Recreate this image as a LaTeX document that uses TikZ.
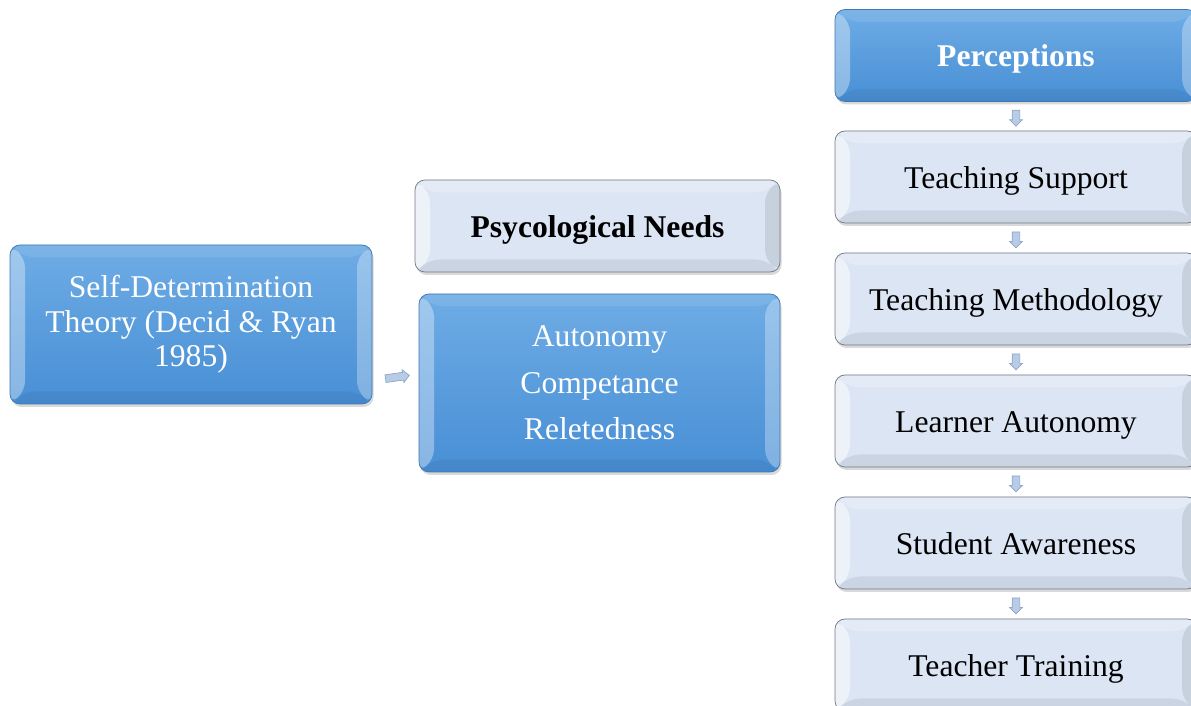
\documentclass[tikz,border=0pt]{standalone}
\usepackage{fontspec}
\setmainfont{Liberation Serif}
\usetikzlibrary{shapes.arrows,shadows,calc}

\definecolor{boxbluetop}{RGB}{110,172,229}
\definecolor{boxbluebot}{RGB}{72,143,213}
\definecolor{boxblueedge}{RGB}{62,118,178}
\definecolor{boxpale}{RGB}{219,229,243}
\definecolor{boxpaleedge}{RGB}{112,120,132}
\definecolor{arrowfill}{RGB}{184,204,232}
\definecolor{arrowedge}{RGB}{140,165,200}

\tikzset{
  bevel/.style n args={4}{path picture={
      \coordinate (o1) at (path picture bounding box.south west);
      \coordinate (o3) at (path picture bounding box.north east);
      \coordinate (i1) at ([shift={(0.3,0.25)}]o1);
      \coordinate (i3) at ([shift={(-0.3,-0.25)}]o3);
      \fill[#1] (o1) -- (o1|-o3) -- (i1|-i3) -- (i1) -- cycle;
      \fill[#2] (o1|-o3) -- (o3) -- (i3) -- (i1|-i3) -- cycle;
      \fill[#3] (o3) -- (o3|-o1) -- (i3|-i1) -- (i3) -- cycle;
      \fill[#4] (o3|-o1) -- (o1) -- (i1) -- (i3|-i1) -- cycle;
  }},
  card/.style={rectangle,rounded corners=0.2cm,align=center,inner sep=0pt,
    font=\fontsize{18}{19}\selectfont,
    drop shadow={opacity=0.3,shadow xshift=0.03cm,shadow yshift=-0.06cm}},
  oneline/.style={text height=0.6cm,text depth=0.15cm},
  bluebox/.style={card,draw=boxblueedge,top color=boxbluetop,bottom color=boxbluebot,text=white,
    bevel={white,opacity=0.35}{white,opacity=0.1}{white,opacity=0.3}{black,opacity=0.05}},
  palebox/.style={card,draw=boxpaleedge,fill=boxpale,text=black,
    bevel={white,opacity=0.5}{white,opacity=0.25}{boxpaleedge,opacity=0.18}{boxpaleedge,opacity=0.15}},
  blockarrow/.style={single arrow,fill=arrowfill,draw=arrowedge,inner sep=0.07cm,
    single arrow head extend=0.05cm,single arrow head indent=0pt}
}

\begin{document}
\begin{tikzpicture}
    \useasboundingbox (0,0) rectangle (23.82,14.12);

    % theory
    \node[bluebox,minimum width=7.24cm,minimum height=3.18cm,
          font=\fontsize{18}{19.5}\selectfont] (sdt) at (3.82,7.63)
        {Self-Determination\\Theory (Decid \& Ryan\\1985)};

    % psychological needs
    \begin{scope}
        \node[palebox,oneline,minimum width=7.3cm,minimum height=1.84cm] (needs) at (11.95,9.6)
            {\bfseries Psycological Needs};
        \node[bluebox,minimum width=7.22cm,minimum height=3.56cm,
              font=\fontsize{18}{26.5}\selectfont] (auto) at (11.99,6.46)
            {Autonomy\\Competance\\Reletedness};
        \node[blockarrow,minimum height=0.48cm,rotate=8] (arr0)
            at ($(sdt.east)!0.5!(auto.west)+(0,-0.47)$) {};
    \end{scope}

    % perceptions (column)
    \begin{scope}[every node/.append style={oneline,minimum width=7.24cm,minimum height=1.84cm}]
        \node[bluebox] (perc) at (20.32,13.01) {\bfseries Perceptions};
        \node[palebox] (tsup) at (20.32,10.58) {Teaching Support};
        \node[palebox] (tmeth) at (20.32,8.14) {Teaching Methodology};
        \node[palebox] (lauto) at (20.32,5.7) {Learner Autonomy};
        \node[palebox] (saware) at (20.32,3.26) {Student Awareness};
        \node[palebox] (ttrain) at (20.32,0.82) {Teacher Training};
    \end{scope}

    % small arrows between the boxes
    \begin{scope}[every node/.append style={blockarrow,shape border rotate=270,minimum height=0.32cm}]
        \node (arr1) at ($(perc.south)!0.5!(tsup.north)$) {};
        \node (arr2) at ($(tsup.south)!0.5!(tmeth.north)$) {};
        \node (arr3) at ($(tmeth.south)!0.5!(lauto.north)$) {};
        \node (arr4) at ($(lauto.south)!0.5!(saware.north)$) {};
        \node (arr5) at ($(saware.south)!0.5!(ttrain.north)$) {};
    \end{scope}
\end{tikzpicture}
\end{document}
